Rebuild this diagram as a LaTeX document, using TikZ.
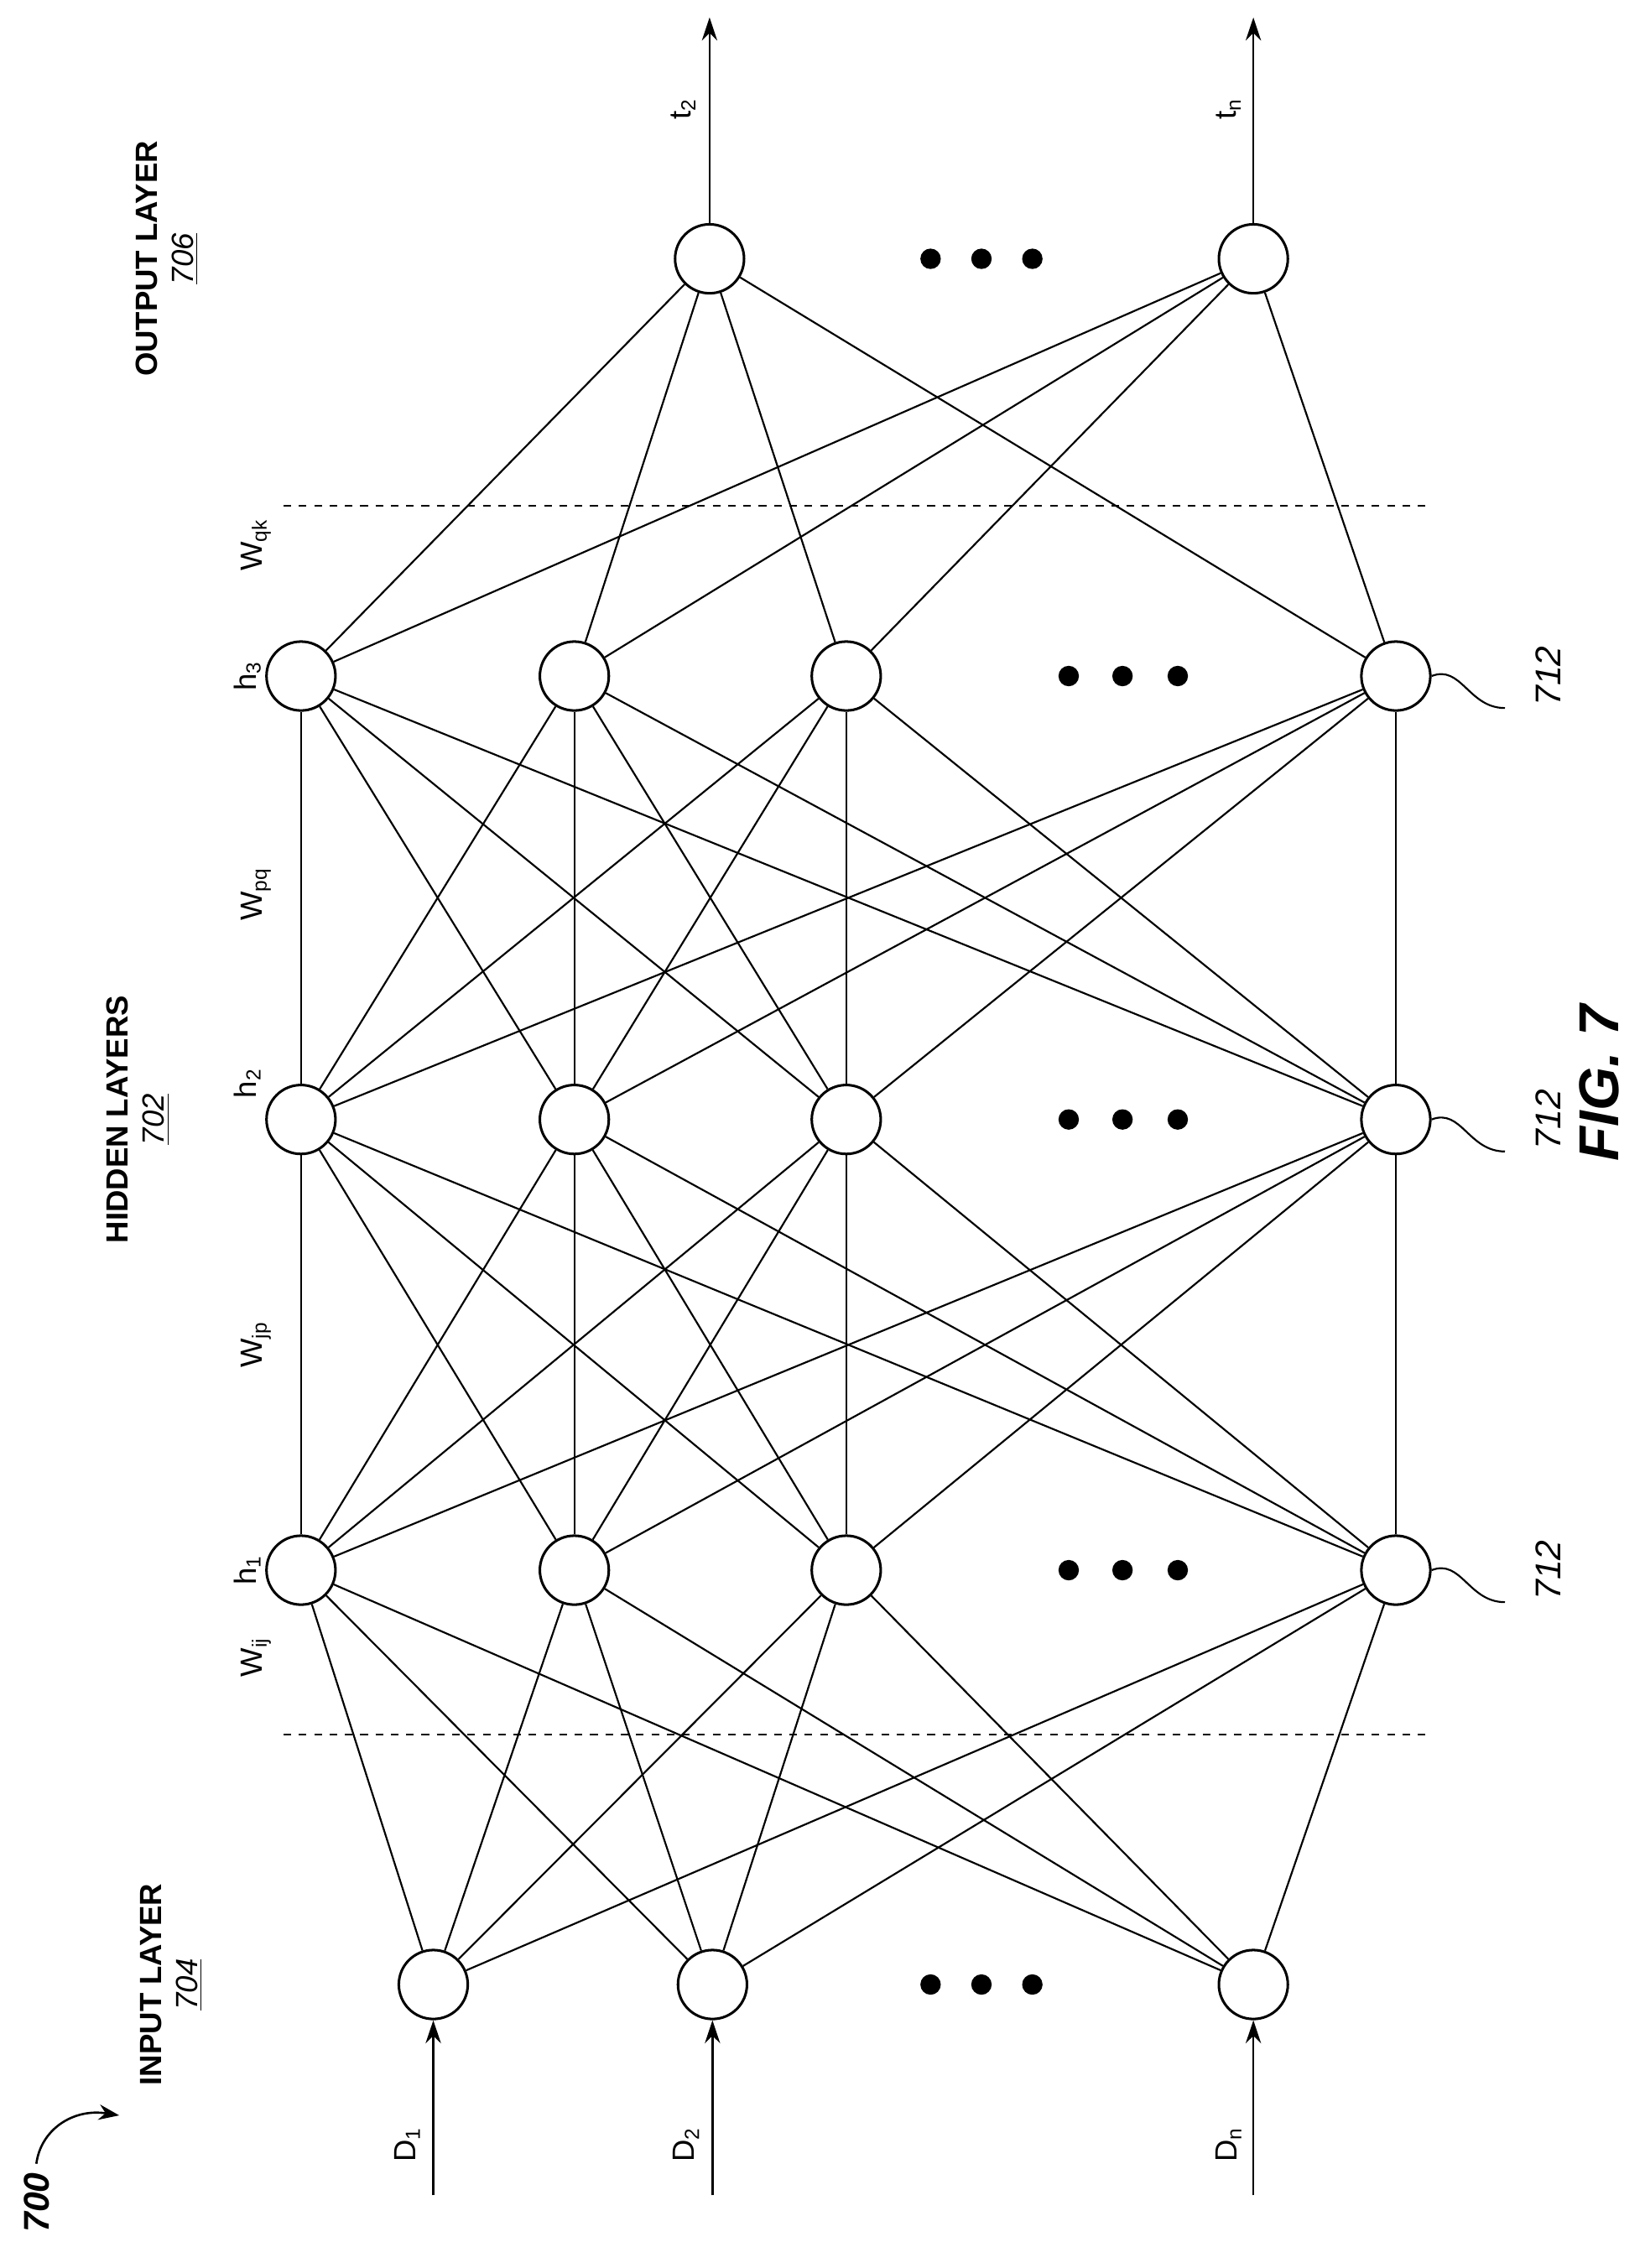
\documentclass[tikz,border=0pt]{standalone}
\usepackage{fontspec}
\setmainfont{Liberation Sans}
\usetikzlibrary{calc}
\usetikzlibrary{arrows.meta}
\tikzstyle{neurone}=[draw,circle,line width=0.35mm,minimum size=27pt,inner sep=0pt]
\tikzstyle{lien}=[line width=0.25mm]
\tikzstyle{fleche}=[line width=0.3mm,-{Stealth[length=9pt,width=6pt]}]
\tikzstyle{texte}=[rotate=90,font=\fontsize{12}{14}\selectfont]
\tikzstyle{titre}=[rotate=90,font=\fontsize{12}{14}\selectfont\bfseries,align=center]
\tikzstyle{point}=[fill,circle,inner sep=0pt,minimum size=8pt]

\begin{document}
\begin{tikzpicture}[x=0.02cm,y=-0.02cm]
\useasboundingbox (0,0) rectangle (1131,1560);

%%%%%%%%%%%%%%%%%%%%%%%%
%rangées des neurones
%%%%%%%%%%%%%%%%%%%%%%%%
\def \yentree {1365};
\def \yun {1080};
\def \ydeux {770};
\def \ytrois {465};
\def \ysortie {178};

\node[neurone] (i1) at (298,\yentree) {};
\node[neurone] (i2) at (490,\yentree) {};
\node[neurone] (i3) at (862,\yentree) {};

\foreach \c/\x in {1/207,2/395,3/582,4/960}{
  \node[neurone] (a\c) at (\x,\yun) {};
  \node[neurone] (b\c) at (\x,\ydeux) {};
  \node[neurone] (c\c) at (\x,\ytrois) {};
}

\node[neurone] (o1) at (488,\ysortie) {};
\node[neurone] (o2) at (862,\ysortie) {};

%les points de suspension
\foreach \x in {640,675,710} \node[point] at (\x,\yentree) {};
\foreach \x in {640,675,710} \node[point] at (\x,\ysortie) {};
\foreach \x in {735,772,810}{
  \node[point] at (\x,\yun) {};
  \node[point] at (\x,\ydeux) {};
  \node[point] at (\x,\ytrois) {};
}

%%%%%%%%%%%%%%%%%%%%%%%%
%les connexions
%%%%%%%%%%%%%%%%%%%%%%%%
\foreach \i in {1,2,3}
  \foreach \j in {1,...,4} \draw[lien] (i\i) -- (a\j);
\foreach \i in {1,...,4}
  \foreach \j in {1,...,4}{
    \draw[lien] (a\i) -- (b\j);
    \draw[lien] (b\i) -- (c\j);
  }
\foreach \i in {1,...,4}
  \foreach \j in {1,2} \draw[lien] (c\i) -- (o\j);

%pointillés
\draw[lien,dashed] (195,1193) -- (980,1193);
\draw[lien,dashed] (195,348) -- (980,348);

%entrées et sorties
\coordinate (e1) at (298,1510);
\coordinate (e2) at (490,1510);
\coordinate (e3) at (862,1510);
\draw[fleche] (e1) -- (i1);
\draw[fleche] (e2) -- (i2);
\draw[fleche] (e3) -- (i3);
\coordinate (s1) at (488,12);
\coordinate (s2) at (862,12);
\draw[fleche] (o1) -- (s1);
\draw[fleche] (o2) -- (s2);

\node[texte] at (280,1475) {D\textsubscript{1}};
\node[texte] at (472,1475) {D\textsubscript{2}};
\node[texte] at (845,1475) {D\textsubscript{n}};
\node[texte] at (470,75) {t\textsubscript{2}};
\node[texte] at (845,75) {t\textsubscript{n}};

%étiquettes des couches
\node[texte] at (170,1080) {h\textsubscript{1}};
\node[texte] at (170,745) {h\textsubscript{2}};
\node[texte] at (170,465) {h\textsubscript{3}};
\node[texte] at (176,1140) {W\textsubscript{ij}};
\node[texte] at (176,925) {W\textsubscript{jp}};
\node[texte] at (176,615) {W\textsubscript{pq}};
\node[texte] at (176,375) {W\textsubscript{qk}};

\node[titre] at (118,1365) {INPUT LAYER\\\normalfont\itshape\underline{704}};
\node[titre] at (95,770) {HIDDEN LAYERS\\\normalfont\itshape\underline{702}};
\node[titre] at (115,178) {OUTPUT LAYER\\\normalfont\itshape\underline{706}};

%les repères 712
\foreach \c/\y in {a4/1080,b4/770,c4/465}{
  \draw[lien] (\c.east) .. controls (1005,\y-8) and (1010,\y+22) .. (1035,\y+22);
  \node[texte,font=\fontsize{14}{16}\selectfont\itshape] at (1065,\y) {712};
}

\node[texte,font=\fontsize{22}{26}\selectfont\bfseries\itshape] at (1100,745) {FIG. 7};

%le repère 700
\node[texte,font=\fontsize{14}{16}\selectfont\bfseries\itshape] (n700) at (25,1515) {700};
\coordinate (p700) at (82,1455);
\draw[line width=0.3mm,-{Stealth[length=8pt,width=6pt]}] (n700.east) .. controls (28,1465) and (50,1450) .. (p700);

\end{tikzpicture}
\end{document}
